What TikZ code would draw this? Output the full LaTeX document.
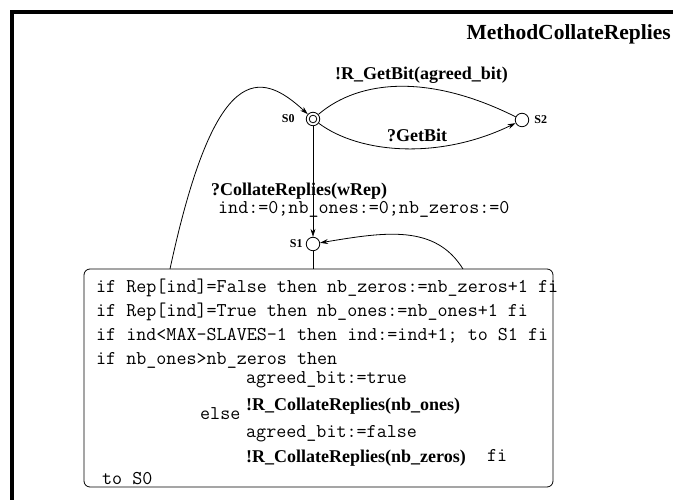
\documentclass[tikz,border=0pt]{standalone}
\usepackage{fontspec}
\setmainfont{Liberation Serif}
\usetikzlibrary{arrows.meta}
\begin{document}
\begin{tikzpicture}[x=1pt,y=1pt,
  state/.style={circle,draw,line width=0.8pt,minimum size=13.5pt,inner sep=0pt},
  slabel/.style={font=\fontsize{12pt}{13pt}\selectfont\bfseries,inner sep=0pt},
  blabel/.style={font=\fontsize{18pt}{20pt}\selectfont\bfseries,inner sep=0pt,anchor=base west},
  code/.style={font=\fontsize{19.5pt}{20pt}\selectfont\ttfamily,inner sep=0pt,anchor=base west},
  conn/.style={line width=0.8pt},
  arr/.style={conn,-{Stealth[length=8pt,width=5pt]}}]
\useasboundingbox (0,0) rectangle (673,500);
% frame
\draw[line width=4pt] (12,0) -- (12,488) -- (675,488);
% title
\node[font=\fontsize{21.5pt}{24pt}\selectfont\bfseries,inner sep=0pt,anchor=base east] (title) at (671,460) {MethodCollateReplies};
% states
\node[state] (S0) at (313,381) {};
\draw[line width=0.8pt] (S0.center) circle (3.8pt);
\node[state] (S2) at (522,380) {};
\node[state] (S1) at (313,256) {};
\node[slabel,anchor=east] (lS0) at ([xshift=-11pt]S0.west) {S0};
\node[slabel,anchor=west] (lS2) at ([xshift=5pt]S2.east) {S2};
\node[slabel,anchor=east] (lS1) at ([xshift=-3pt]S1.west) {S1};
% box
\node[draw,line width=0.8pt,rounded corners=6pt,minimum width=469pt,minimum height=218pt,inner sep=0pt] (box) at (318.5,122) {};
\coordinate (bL) at (170,231);
\coordinate (bR) at (463,231);
% edges
\draw[conn] (S0) .. controls (360,421) and (430,426) .. (S2);
\draw[arr] (S0) .. controls (360,346) and (440,340) .. (S2);
\draw[arr] (S0) -- (S1);
\draw[conn] (S1.south) -- (S1.south |- box.north);
\draw[arr] (bL) .. controls (215,440) and (260,430) .. (S0);
\draw[arr] (bR) .. controls (435,276) and (385,268) .. (S1);
% edge labels
\node[blabel] (t1) at (335,420) {!R\_GetBit(agreed\_bit)};
\node[blabel] (t2) at (387,358) {?GetBit};
\node[blabel] (t3) at (211,304) {?CollateReplies(wRep)};
\node[code] (t4) at (218,286) {ind:=0;nb\_ones:=0;nb\_zeros:=0};
% box text
\node[code] (c1) at (96,207) {if Rep[ind]=False then nb\_zeros:=nb\_zeros+1 fi};
\node[code] (c2) at (96,183) {if Rep[ind]=True then nb\_ones:=nb\_ones+1 fi};
\node[code] (c3) at (96,159) {if ind<MAX-SLAVES-1 then ind:=ind+1; to S1 fi};
\node[code] (c4) at (96,135) {if nb\_ones>nb\_zeros then};
\node[code] (c5) at (246,116) {agreed\_bit:=true};
\node[blabel] (c6) at (246,89) {!R\_CollateReplies(nb\_ones)};
\node[code] (c7) at (200,80) {else};
\node[code] (c8) at (246,62) {agreed\_bit:=false};
\node[blabel] (c9) at (246,37) {!R\_CollateReplies(nb\_zeros)};
\node[code] (c10) at (487,38) {fi};
\node[code] (c11) at (102,15) {to S0};
\end{tikzpicture}
\end{document}
